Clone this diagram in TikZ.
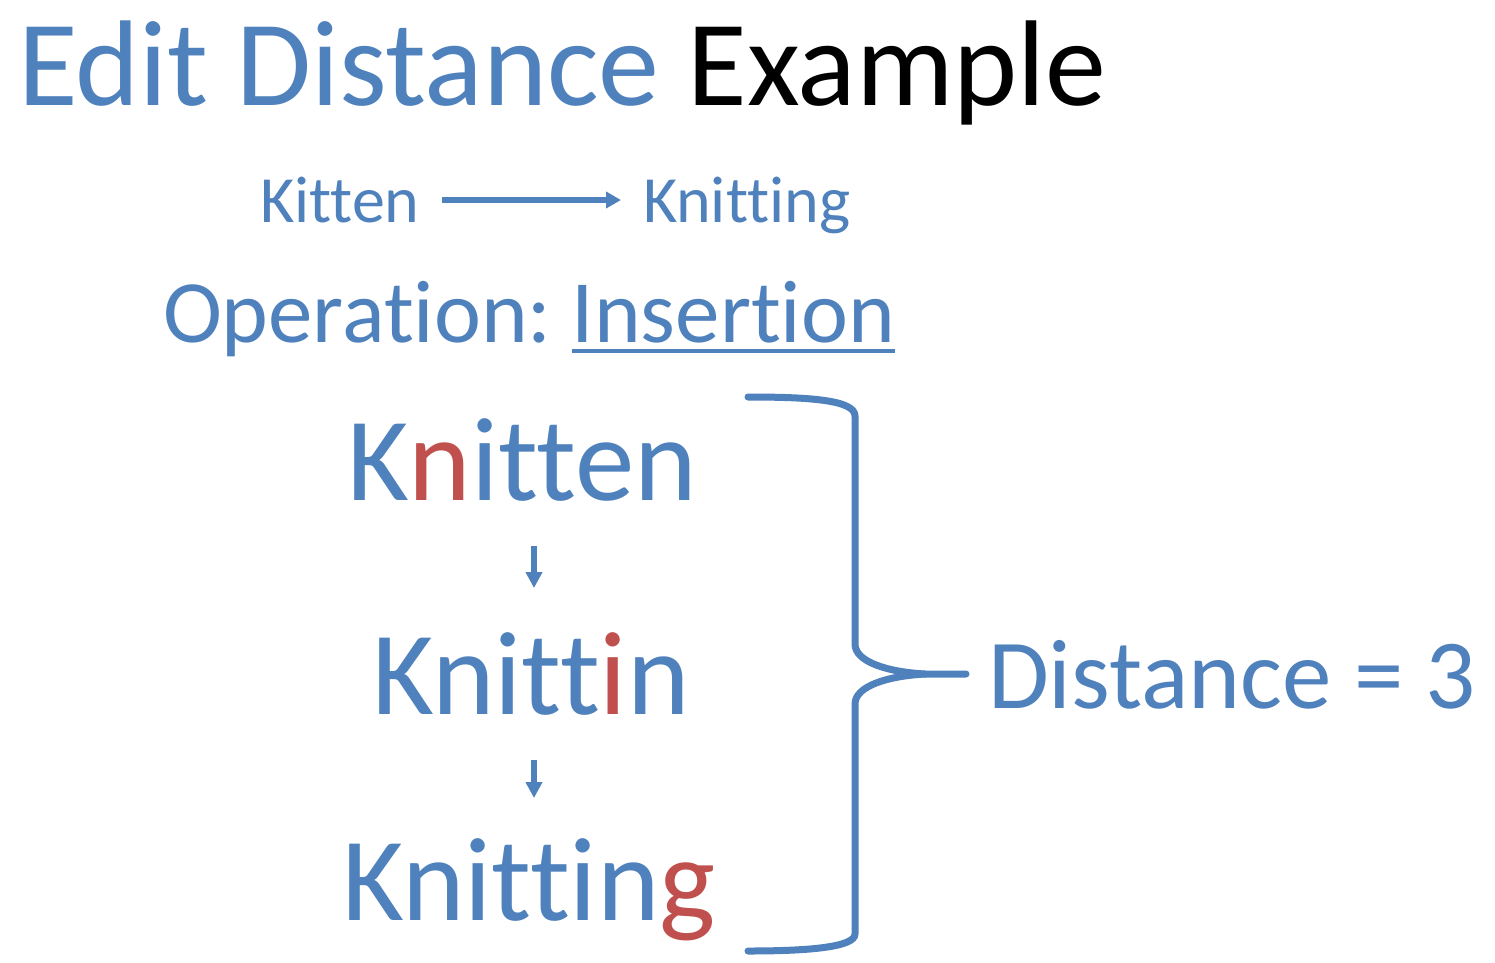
\documentclass[tikz,border=0pt]{standalone}
\usepackage{fontspec}
\setmainfont{Carlito}[Ligatures={NoCommon,NoRequired,NoContextual}]
\usetikzlibrary{arrows.meta}
\definecolor{obl}{HTML}{4F81BD}
\definecolor{ored}{HTML}{C0504D}
\tikzset{
  txt/.style={inner sep=0pt, outer sep=0pt, anchor=base west, text=obl},
  arr/.style={draw=obl, line width=6pt, -{Triangle[length=15pt,width=16pt]}},
  sarr/.style={draw=obl, line width=5.5pt, -{Triangle[length=16pt,width=16pt]}},
  brace/.style={draw=obl, line width=7pt, line cap=round, line join=round}
}
\newcommand{\fsz}[1]{\fontsize{#1}{#1}\selectfont}
\begin{document}
\begin{tikzpicture}[x=1pt,y=-1pt]
\useasboundingbox[fill=white] (0,0) rectangle (1495,962);
% title
\node[txt] (title) at (18,105) {\fsz{122}Edit Distance \textcolor{black}{Example}};
% Kitten -> Knitting
\node[txt] (kit) at (260,222) {\fsz{66}Kitten};
\node[txt] (knit) at (643,222) {\fsz{66}Knitting};
\draw[arr] ([xshift=22pt,yshift=22pt]kit.base east) -- ([xshift=-22pt,yshift=22pt]knit.base west);
% Operation
\node[txt] (op) at (163,342) {\fsz{89}Operation:};
\node[txt] (ins) at ([xshift=20pt]op.base east) {\fsz{89}Insertion};
\draw[draw=obl, line width=3.5pt] ([yshift=-9pt]ins.base west) -- ([yshift=-9pt]ins.base east);
% words
\node[txt] (w1) at (347,500) {\fsz{119}K\textcolor{ored}{n}itten};
\node[txt] (w2) at (372,714) {\fsz{119}Knitt\textcolor{ored}{i}n};
\node[txt] (w3) at (342,920) {\fsz{119}Knittin\textcolor{ored}{g}};
\draw[sarr] ([xshift=534pt-347pt, yshift=-46pt]w1.base west) -- ([xshift=534pt-372pt, yshift=126pt]w2.base west);
\draw[sarr] ([xshift=534pt-372pt, yshift=-46pt]w2.base west) -- ([xshift=534pt-342pt, yshift=122pt]w3.base west);
% brace
\coordinate (bt) at (748,397);
\coordinate (bb) at (748,951);
\coordinate (tip) at (966,674);
\coordinate (mid) at (925,674);
\draw[brace] (bt) .. controls (810,397) and (855,400) .. (855,416) -- (855,644)
  .. controls (855,662) and (888,672) .. (mid) -- (tip);
\draw[brace] (mid) .. controls (888,676) and (855,686) .. (855,704) -- (855,934)
  .. controls (855,947) and (810,951) .. (bb);
% distance
\node[txt] (dist) at (988,708) {\fsz{99}Distance = 3};
\end{tikzpicture}
\end{document}
